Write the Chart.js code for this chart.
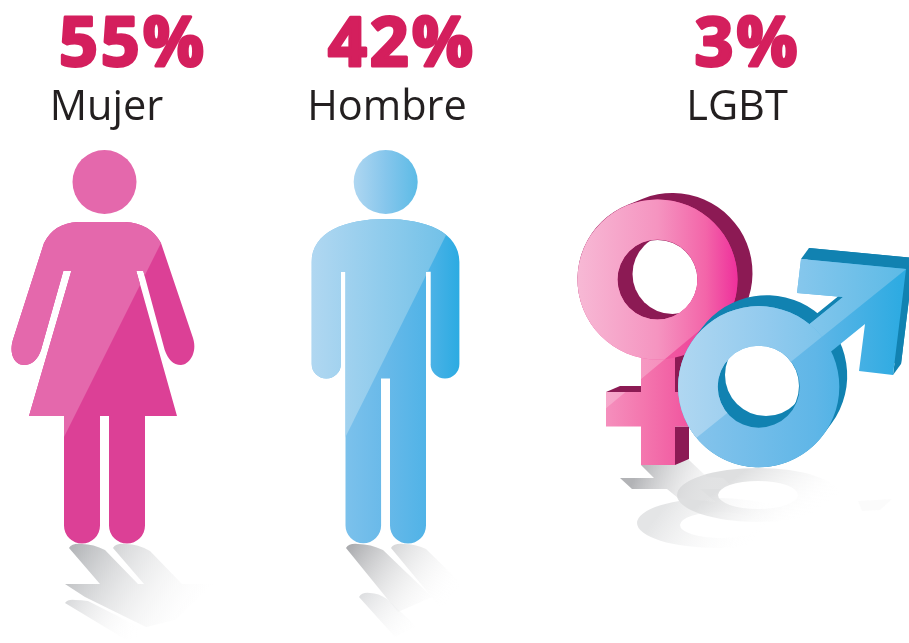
<!DOCTYPE html>
<html>
<head>
<meta charset="utf-8">
<style>
  html, body { margin: 0; padding: 0; background: #fff; }
  canvas { display: block; }
</style>
<script src="https://cdn.jsdelivr.net/npm/chart.js@4/dist/chart.umd.min.js"></script>
</head>
<body>
<canvas id="chart" width="909" height="643"></canvas>
<script>
const categories = ['Mujer', 'Hombre', 'LGBT'];
const shares = [55, 42, 3];

// horizontal shift of each text from its column centre, the picture is not evenly spaced
const pctShift = [-18.5, -52.5, -10];
const nameShift = [-45, -67.5, -20.5];
// column centre the icon outlines below were measured against
const iconHome = [47 + 104.5, 69 + 385.5, 757.5];

function hGrad(ctx, x0, x1, stops) {
  const g = ctx.createLinearGradient(x0, 0, x1, 0);
  stops.forEach(s => g.addColorStop(s[0], s[1]));
  return g;
}

function poly(p, pts) {
  pts.forEach((q, i) => i ? p.lineTo(q[0], q[1]) : p.moveTo(q[0], q[1]));
  p.closePath();
  return p;
}

// fills a shape with its base colour, then the lighter "gloss" part inside it
function glossFill(ctx, shape, rule, base, light, glossPts) {
  ctx.fillStyle = base;
  ctx.fill(shape, rule);
  ctx.save();
  ctx.clip(shape, rule);
  ctx.fillStyle = light;
  ctx.fill(poly(new Path2D(), glossPts));
  ctx.restore();
}

function shadow(ctx, x0, y0, x1, y1, from, polys) {
  const g = ctx.createLinearGradient(x0, y0, x1, y1);
  g.addColorStop(0, from);
  g.addColorStop(1, 'rgba(255,255,255,0)');
  ctx.fillStyle = g;
  polys.forEach(p => ctx.fill(p));
}

function strip(a, b, c, d, e) {
  const p = new Path2D();
  p.moveTo(a[0], a[1]);
  p.quadraticCurveTo(a[0] + 3, b[1] - 1, b[0], b[1]);
  p.quadraticCurveTo((b[0] + c[0]) / 2, b[1], c[0], c[1]);
  p.lineTo(d[0], d[1]);
  p.lineTo(e[0], e[1]);
  p.closePath();
  return p;
}

function drawWoman(ctx) {
  shadow(ctx, 75, 545, 195, 625, 'rgba(180,182,185,1)', [
    strip([69, 548], [82, 544], [105, 550], [138, 584], [100, 584]),
    strip([113, 548], [126, 544], [150, 551], [182, 584], [144, 584]),
    poly(new Path2D(), [[65, 584], [213, 584], [175, 620], [146, 627], [85, 597]])
  ]);
  shadow(ctx, 65, 600, 135, 640, 'rgba(214,215,217,1)', [
    strip([65, 603], [75, 600], [88, 601], [147, 631], [128, 641])
  ]);

  const head = new Path2D();
  head.arc(104.5, 182, 32, 0, Math.PI * 2);
  ctx.fillStyle = '#e468ac';
  ctx.fill(head);

  const body = new Path2D();
  body.moveTo(78, 222);
  body.lineTo(125, 222);
  body.quadraticCurveTo(150, 223, 161, 243);
  body.lineTo(193, 338);
  body.bezierCurveTo(198, 354, 188, 365, 181, 365);
  body.bezierCurveTo(173, 365, 168, 359, 164.7, 350);
  body.lineTo(143.3, 271);
  body.lineTo(136.3, 271);
  body.lineTo(177, 416);
  body.lineTo(145, 416);
  body.lineTo(145, 525.5);
  body.arc(127, 525.5, 18, 0, Math.PI);
  body.lineTo(109, 416);
  body.lineTo(100, 416);
  body.lineTo(100, 525.5);
  body.arc(82, 525.5, 18, 0, Math.PI);
  body.lineTo(64, 416);
  body.lineTo(29, 416);
  body.lineTo(71.3, 271);
  body.lineTo(63.3, 271);
  body.lineTo(41, 350);
  body.bezierCurveTo(38, 359, 32, 365, 24, 365);
  body.bezierCurveTo(15, 365, 8, 354, 13.5, 338);
  body.lineTo(44, 243);
  body.quadraticCurveTo(54, 223, 78, 222);
  body.closePath();
  glossFill(ctx, body, 'nonzero', '#dc4096', '#e468ac', [[181, 203], [55, 455], [0, 455], [0, 203]]);
}

function drawMan(ctx) {
  shadow(ctx, 350, 545, 440, 612, 'rgba(170,171,174,1)', [
    strip([346, 548], [358, 544], [383, 550], [432, 597], [398, 612]),
    strip([391, 548], [404, 544], [426, 549], [470, 592], [440, 607])
  ]);
  shadow(ctx, 362, 595, 412, 640, 'rgba(222,223,225,1)', [
    strip([359, 597], [370, 593], [387, 599], [416, 626], [395, 637])
  ]);

  const head = new Path2D();
  head.arc(385.7, 182, 32, 0, Math.PI * 2);
  ctx.fillStyle = hGrad(ctx, 353, 418, [[0, '#b0d7f1'], [0.5, '#86c6ec'], [1, '#5cbbe6']]);
  ctx.fill(head);

  const body = new Path2D();
  body.moveTo(385.5, 219);
  body.bezierCurveTo(345, 219, 311.7, 232, 311.7, 262);
  body.lineTo(311.7, 364);
  body.arc(326.3, 364, 14.6, Math.PI, 0, true);
  body.lineTo(341, 271.7);
  body.lineTo(345.5, 271.7);
  body.lineTo(345.5, 525.5);
  body.arc(363.3, 525.5, 17.8, Math.PI, 0, true);
  body.lineTo(381, 378.5);
  body.lineTo(390, 378.5);
  body.lineTo(390, 525.5);
  body.arc(408, 525.5, 18, Math.PI, 0, true);
  body.lineTo(426, 271.7);
  body.lineTo(430.7, 271.7);
  body.lineTo(430.7, 364);
  body.arc(445, 364, 14.4, Math.PI, 0, true);
  body.lineTo(459.4, 262);
  body.bezierCurveTo(459.4, 232, 426, 219, 385.5, 219);
  body.closePath();
  const base = hGrad(ctx, 312, 459, [[0, '#8cc8ee'], [0.5, '#68b9e9'], [0.78, '#50b3e7'], [1, '#2cabe2']]);
  const light = hGrad(ctx, 312, 459, [[0, '#b0d7f1'], [1, '#6cbfe7']]);
  glossFill(ctx, body, 'nonzero', base, light, [[462, 203], [330, 468], [300, 468], [300, 203]]);
}

function ringPath(cx, cy, r, hole) {
  const p = new Path2D();
  p.arc(cx, cy, r, 0, Math.PI * 2);
  p.closePath();
  p.moveTo(cx + hole, cy);
  p.arc(cx, cy, hole, 0, Math.PI * 2);
  return p;
}

function ellipseRing(cx, cy, rx, ry, hx, hy, hrx, hry) {
  const p = new Path2D();
  p.ellipse(cx, cy, rx, ry, 0, 0, Math.PI * 2);
  p.closePath();
  p.moveTo(hx + hrx, hy);
  p.ellipse(hx, hy, hrx, hry, 0, 0, Math.PI * 2);
  return p;
}

function drawSymbols(ctx) {
  // shadows on the floor
  let g = ctx.createLinearGradient(670, 498, 745, 552);
  g.addColorStop(0, 'rgba(228,229,230,1)');
  g.addColorStop(1, 'rgba(255,255,255,0)');
  ctx.fillStyle = g;
  ctx.fill(ellipseRing(717, 523, 80, 25, 720, 525, 40, 13), 'evenodd');

  g = ctx.createLinearGradient(745, 470, 790, 530);
  g.addColorStop(0, 'rgba(222,223,224,1)');
  g.addColorStop(1, 'rgba(255,255,255,0)');
  ctx.fillStyle = g;
  ctx.fill(ellipseRing(758, 495, 81, 27, 758, 495, 40, 14), 'evenodd');

  shadow(ctx, 640, 465, 730, 505, 'rgba(178,179,182,1)', [
    poly(new Path2D(), [[641, 465], [689, 460], [707, 477], [723, 478], [735, 489], [700, 489], [716, 502], [678, 498], [667, 489], [632, 489], [620, 478], [654, 478]])
  ]);
  ctx.fillStyle = 'rgba(248,248,248,0.6)';
  ctx.fill(poly(new Path2D(), [[858, 501], [892, 499], [880, 510], [862, 511]]));

  // female sign
  const maroon = '#8c1a54';
  ctx.fillStyle = maroon;
  ctx.fill(poly(new Path2D(), [[606, 392], [620, 386], [641, 386], [641, 392]]));
  ctx.fill(poly(new Path2D(), [[675, 350], [690, 350], [690, 395], [675, 395]]));
  ctx.fill(poly(new Path2D(), [[675, 426.5], [689, 426.5], [689, 459], [675, 465]]));
  ctx.strokeStyle = maroon;
  ctx.lineWidth = 160;
  ctx.lineCap = 'round';
  ctx.beginPath();
  ctx.moveTo(657.5, 279);
  ctx.lineTo(672.5, 273);
  ctx.stroke();

  ctx.save();
  const fHole = new Path2D();
  fHole.arc(657.5, 280, 40, 0, Math.PI * 2);
  ctx.clip(fHole);
  ctx.fillStyle = '#fff';
  ctx.beginPath();
  ctx.arc(672.5, 274, 40, 0, Math.PI * 2);
  ctx.fill();
  ctx.restore();

  const stem = poly(new Path2D(), [[641, 340], [675, 340], [675, 392], [700, 392], [700, 426.5], [675, 426.5], [675, 465], [641, 465], [641, 426.5], [606, 426.5], [606, 392], [641, 392]]);
  const fGloss = [[760, 280], [590, 421.5], [560, 421.5], [560, 180], [760, 180]];
  glossFill(ctx, stem, 'nonzero',
    hGrad(ctx, 606, 690, [[0, '#f58fbd'], [0.45, '#f476ae'], [1, '#f0559f']]),
    hGrad(ctx, 577, 690, [[0, '#f7b6d3'], [1, '#f583b6']]), fGloss);
  glossFill(ctx, ringPath(657.5, 279.5, 80, 40), 'evenodd',
    hGrad(ctx, 577, 738, [[0, '#f07ab0'], [0.6, '#f0559f'], [1, '#ee2f9b']]),
    hGrad(ctx, 577, 738, [[0, '#f7b9d5'], [0.5, '#f594c0'], [0.8, '#f365a9'], [1, '#ee2f9b']]), fGloss);

  // male sign
  const teal = '#1182b1';
  const arrow = [[801, 259], [906, 269], [893, 375], [859, 371], [865, 324], [828, 354], [790, 350], [809.3, 324.3], [843, 297], [797, 293]];
  const back = arrow.map(q => [q[0] + 8, q[1] - 11]);
  ctx.fillStyle = teal;
  ctx.fill(poly(new Path2D(), back));
  // sides joining the front of the arrow head to its back
  ctx.fill(poly(new Path2D(), [arrow[0], back[0], back[1], arrow[1]]));
  ctx.fill(poly(new Path2D(), [arrow[1], back[1], back[2], arrow[2]]));
  ctx.strokeStyle = teal;
  ctx.lineWidth = 161;
  ctx.beginPath();
  ctx.moveTo(758.7, 386.7);
  ctx.lineTo(766.7, 375.7);
  ctx.stroke();

  ctx.save();
  const mHole = new Path2D();
  mHole.arc(758, 386, 41, 0, Math.PI * 2);
  ctx.clip(mHole);
  ctx.fillStyle = '#fff';
  ctx.beginPath();
  ctx.arc(766, 375, 41, 0, Math.PI * 2);
  ctx.fill();
  ctx.restore();

  const mBase = hGrad(ctx, 690, 900, [[0, '#86c4ec'], [0.6, '#5fb6e7'], [1, '#2eabe2']]);
  const mLight = hGrad(ctx, 678, 906, [[0, '#b0d7f1'], [0.4, '#91caee'], [1, '#5cbae6']]);
  const mGloss = [[920, 258], [680, 451], [660, 451], [660, 240], [800, 240], [920, 240]];
  glossFill(ctx, poly(new Path2D(), arrow), 'nonzero', mBase, mLight, mGloss);
  glossFill(ctx, ringPath(758.7, 386.7, 80.6, 41), 'evenodd', mBase, mLight, mGloss);
}

const iconDrawers = [drawWoman, drawMan, drawSymbols];

const pictogramPlugin = {
  id: 'pictograms',
  afterDatasetsDraw(chart) {
    const ctx = chart.ctx;
    const xs = chart.scales.x;
    categories.forEach((name, i) => {
      const cx = xs.getPixelForValue(i);

      ctx.save();
      ctx.translate(cx - iconHome[i], 0);
      iconDrawers[i](ctx);
      ctx.restore();

      ctx.save();
      ctx.textAlign = 'center';
      ctx.textBaseline = 'alphabetic';
      ctx.font = '700 68px "Open Sans"';
      ctx.letterSpacing = '3px';
      ctx.fillStyle = '#d41f5d';
      ctx.strokeStyle = '#d41f5d';
      ctx.lineWidth = 3;
      ctx.lineJoin = 'round';
      ctx.fillText(shares[i] + '%', cx + pctShift[i], 65.5);
      ctx.strokeText(shares[i] + '%', cx + pctShift[i], 65.5);

      ctx.letterSpacing = '0px';
      ctx.font = '500 41.5px "Open Sans"';
      ctx.fillStyle = '#231f20';
      ctx.fillText(name, cx + nameShift[i], 120);
      ctx.restore();
    });
  }
};

new Chart(document.getElementById('chart'), {
  type: 'bar',
  data: {
    labels: categories,
    datasets: [{ data: shares, backgroundColor: 'rgba(0,0,0,0)', borderWidth: 0 }]
  },
  options: {
    responsive: false,
    animation: false,
    layout: { padding: 0 },
    plugins: { legend: { display: false }, tooltip: { enabled: false } },
    scales: {
      x: { display: false },
      y: { display: false, min: 0, max: 100 }
    }
  },
  plugins: [pictogramPlugin]
});
</script>
</body>
</html>
